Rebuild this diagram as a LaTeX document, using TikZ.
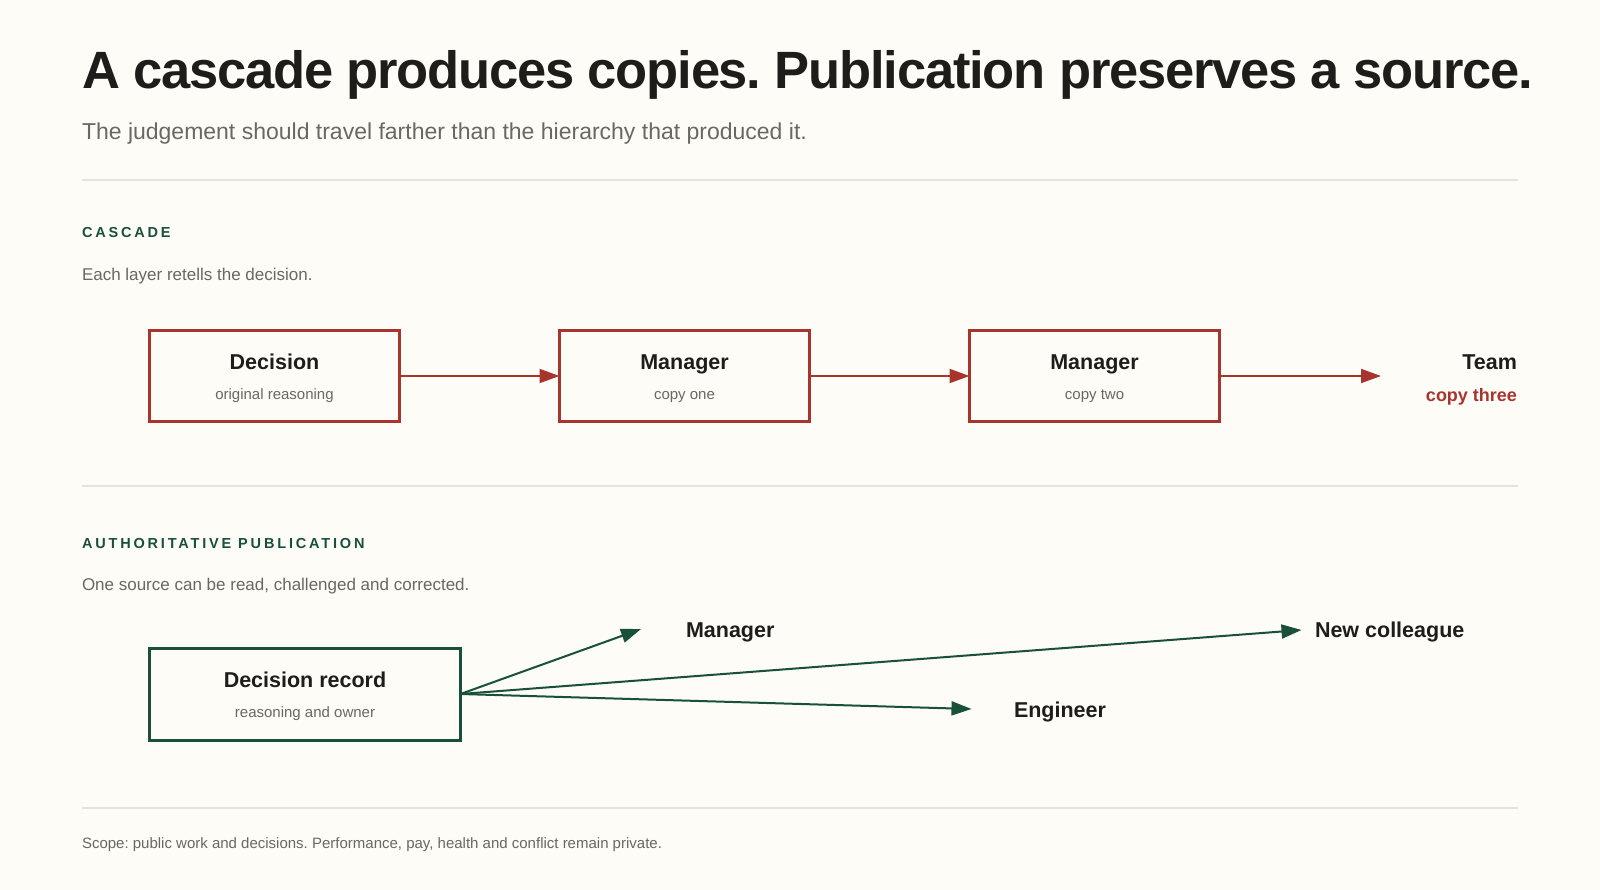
\documentclass[tikz,border=0pt]{standalone}
\usepackage{fontspec}
\setmainfont{Liberation Sans}
\newfontfamily\capsfont[LetterSpace=19.5]{Liberation Sans}
\newfontfamily\titlefont[LetterSpace=-2.3]{Liberation Sans}
\usetikzlibrary{arrows.meta}
\definecolor{bg}{HTML}{FDFCF7}
\definecolor{ink}{HTML}{1E1D1A}
\definecolor{muted}{HTML}{6B6761}
\definecolor{rulec}{HTML}{E5E3DC}
\definecolor{redc}{HTML}{A8342E}
\definecolor{greenc}{HTML}{18503B}
\frenchspacing
\begin{document}
\frenchspacing
\begin{tikzpicture}[x=1pt,y=-1pt,
  txt/.style={inner sep=0pt,outer sep=0pt},
  titletxt/.style={txt,anchor=base west,text=ink,font=\titlefont\fontsize{52.5}{60}\selectfont\bfseries},
  subtitletxt/.style={txt,anchor=base west,text=muted,font=\fontsize{23}{27}\selectfont},
  sectiontxt/.style={txt,anchor=base west,text=greenc,font=\capsfont\bfseries\fontsize{14.5}{17}\selectfont},
  leadtxt/.style={txt,anchor=base west,text=muted,font=\fontsize{17}{20}\selectfont},
  boxtitle/.style={txt,anchor=base,text=ink,font=\fontsize{21.5}{25}\selectfont\bfseries},
  boxsub/.style={txt,anchor=base,text=muted,font=\fontsize{15}{18}\selectfont},
  endlabel/.style={txt,text=ink,font=\fontsize{21.5}{25}\selectfont\bfseries},
  redbox/.style={draw=redc,line width=3pt,minimum width=250pt,minimum height=91pt,inner sep=0pt,outer sep=0pt},
  greenbox/.style={draw=greenc,line width=3pt,minimum width=311pt,minimum height=92pt,inner sep=0pt,outer sep=0pt},
  redarrow/.style={draw=redc,line width=2pt,-{Triangle[length=20pt,width=14pt]}},
  greenarrow/.style={draw=greenc,line width=2pt,-{Triangle[length=20pt,width=14pt]}},
  rulestyle/.style={draw=rulec,line width=1.5pt}]
\fill[bg] (0,0) rectangle (1600,890);
\useasboundingbox (0,0) rectangle (1600,890);

% header
\node[titletxt] (title) at (82,89) {A cascade produces copies. Publication preserves a source.};
\node[subtitletxt] (subtitle) at (82,140) {The judgement should travel farther than the hierarchy that produced it.};
\draw[rulestyle] (82,180) -- (1518,180);

% cascade
\node[sectiontxt] (cascadehead) at (82,238) {CASCADE};
\node[leadtxt] (cascadelead) at (82,281) {Each layer retells the decision.};

\node[redbox] (d1) at (274.5,376) {};
\node[redbox] (m1) at (684.5,376) {};
\node[redbox] (m2) at (1094.5,376) {};
\node[boxtitle] at (274.5,370) {Decision};
\node[boxsub] at (274.5,399) {original reasoning};
\node[boxtitle] at (684.5,370) {Manager};
\node[boxsub] at (684.5,399) {copy one};
\node[boxtitle] at (1094.5,370) {Manager};
\node[boxsub] at (1094.5,399) {copy two};

\coordinate (teamend) at (1381,376);
\node[endlabel,anchor=base east] (team) at (1517,370) {Team};
\node[txt,anchor=base east,text=redc,font=\fontsize{18}{21}\selectfont\bfseries] (copythree) at (1517,401.5) {copy three};

\draw[redarrow] (d1.east) -- (m1.west);
\draw[redarrow] (m1.east) -- (m2.west);
\draw[redarrow] (m2.east) -- (teamend);

\draw[rulestyle] (82,486) -- (1518,486);

% publication
\node[sectiontxt] (pubhead) at (82,548) {AUTHORITATIVE PUBLICATION};
\node[leadtxt] (publead) at (82,590) {One source can be read, challenged and corrected.};

\node[greenbox] (rec) at (305,694) {};
\node[boxtitle] at (305,687) {Decision record};
\node[boxsub] at (305,717) {reasoning and owner};

\coordinate (tmgr) at (641,629);
\coordinate (teng) at (971.5,709);
\coordinate (tnew) at (1301.5,630);
\node[endlabel,anchor=base west] (mgr) at (686,637) {Manager};
\node[endlabel,anchor=base west] (eng) at (1014,717) {Engineer};
\node[endlabel,anchor=base west] (newc) at (1315,637) {New colleague};

\draw[greenarrow] (rec.east) -- (tmgr);
\draw[greenarrow] (rec.east) -- (tnew);
\draw[greenarrow] (rec.east) -- (teng);

\draw[rulestyle] (82,808) -- (1518,808);
\node[txt,anchor=base west,text=muted,font=\fontsize{15}{18}\selectfont] (footer) at (82,848) {Scope: public work and decisions. Performance, pay, health and conflict remain private.};
\end{tikzpicture}
\end{document}
